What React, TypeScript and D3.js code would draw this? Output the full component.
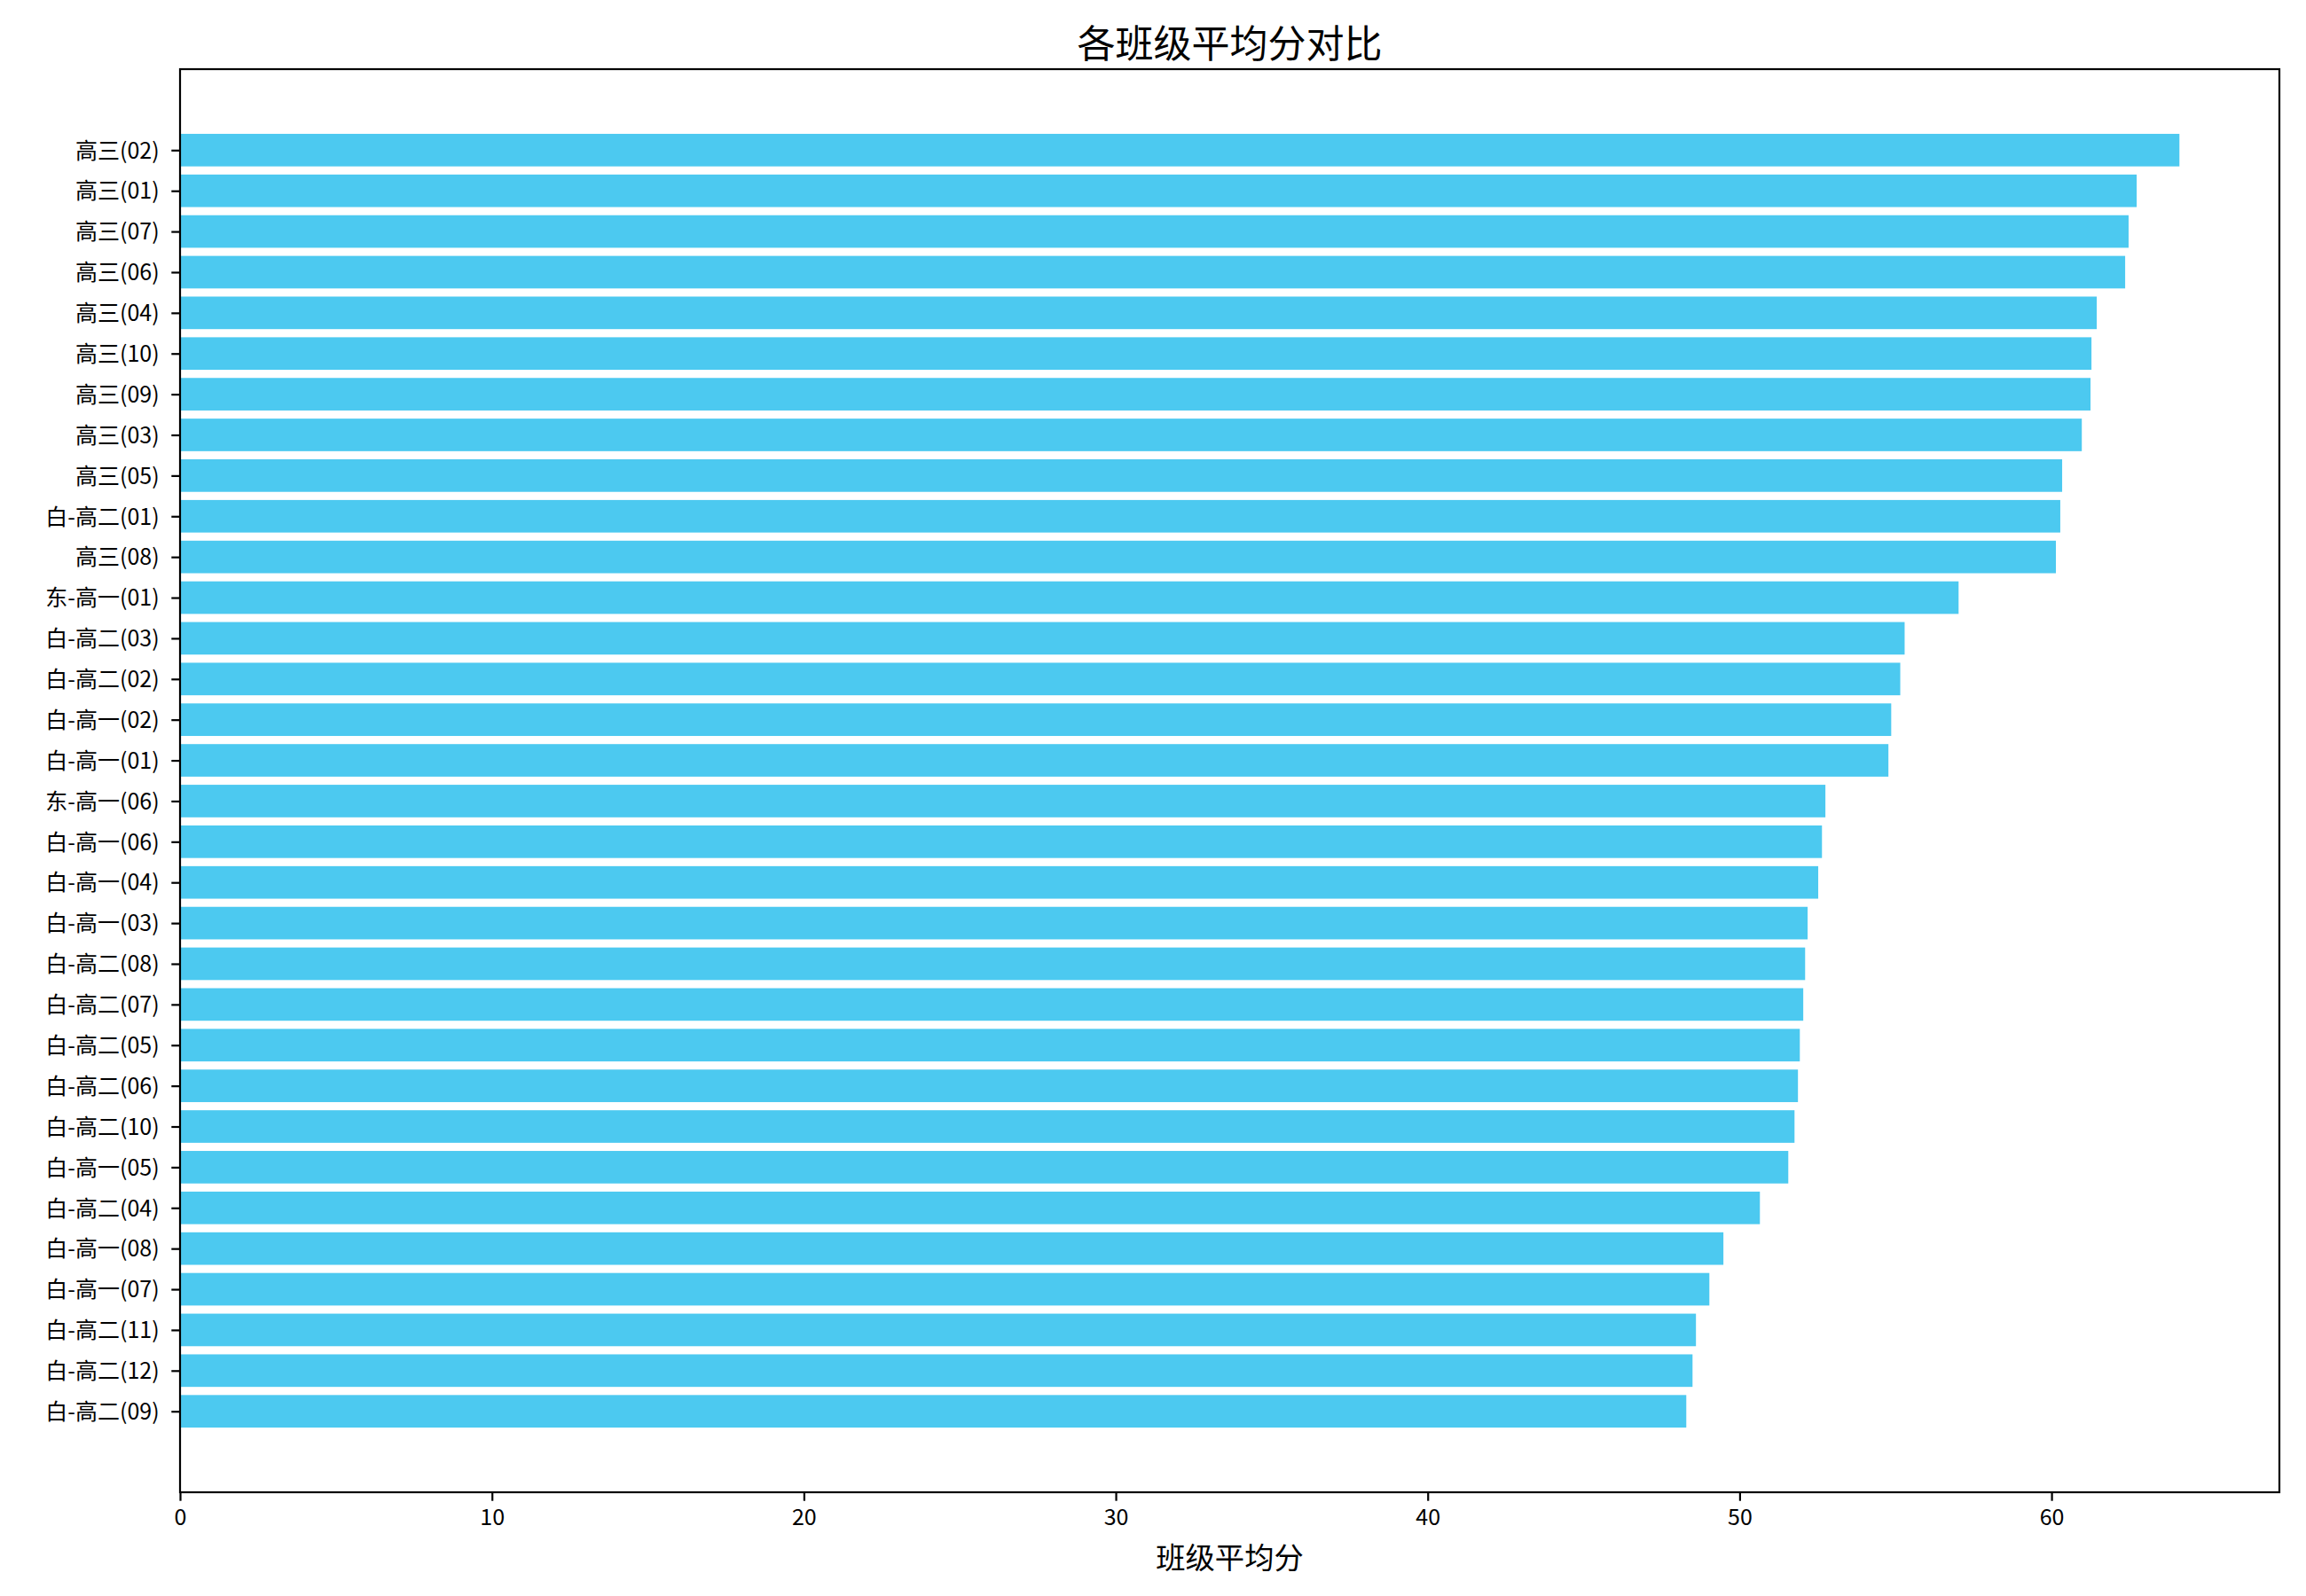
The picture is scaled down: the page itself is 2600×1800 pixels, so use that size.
import React, { useEffect, useRef } from "react";
import * as d3 from "d3";

const classNames: string[] = [
  "高三(02)", "高三(01)", "高三(07)", "高三(06)", "高三(04)", "高三(10)", "高三(09)", "高三(03)",
  "高三(05)", "白-高二(01)", "高三(08)", "东-高一(01)", "白-高二(03)", "白-高二(02)", "白-高一(02)",
  "白-高一(01)", "东-高一(06)", "白-高一(06)", "白-高一(04)", "白-高一(03)", "白-高二(08)",
  "白-高二(07)", "白-高二(05)", "白-高二(06)", "白-高二(10)", "白-高一(05)", "白-高二(04)",
  "白-高一(08)", "白-高一(07)", "白-高二(11)", "白-高二(12)", "白-高二(09)",
];

const avgScores: number[] = [
  64.10, 62.73, 62.47, 62.36, 61.45, 61.28, 61.25, 60.97,
  60.34, 60.28, 60.14, 57.02, 55.29, 55.15, 54.86,
  54.77, 52.75, 52.64, 52.52, 52.18, 52.10,
  52.04, 51.93, 51.87, 51.76, 51.56, 50.65,
  49.48, 49.03, 48.60, 48.49, 48.29,
];

const xTicks: number[] = [0, 10, 20, 30, 40, 50, 60];

const titleText = "各班级平均分对比";
const xLabelText = "班级平均分";

const W = 2600;
const H = 1800;
const FONT = "'Noto Sans CJK SC', 'Noto Sans', sans-serif";

export default function App() {
  const ref = useRef<SVGSVGElement | null>(null);

  useEffect(() => {
    document.body.style.margin = "0";
    const svg = d3.select(ref.current);
    svg.selectAll("*").remove();

    const left = 203, right = 2570, top = 78, bottom = 1683;
    const n = classNames.length;
    const maxV = d3.max(avgScores) as number;
    const x = d3.scaleLinear().domain([0, maxV * 1.05]).range([left, right]);
    const barH = 0.8;
    const lo = -barH / 2, hi = n - 1 + barH / 2;
    const m = (hi - lo) * 0.05;
    const y = d3.scaleLinear().domain([lo - m, hi + m]).range([top, bottom]);

    svg.append("rect").attr("width", W).attr("height", H).attr("fill", "#ffffff");

    // bars
    svg.append("g")
      .selectAll("rect")
      .data(avgScores)
      .join("rect")
      .attr("x", x(0))
      .attr("y", (_d, i) => y(i - barH / 2))
      .attr("width", (d) => x(d) - x(0))
      .attr("height", y(barH) - y(0))
      .attr("fill", "#4cc9f0");

    const tickLen = 9.7;
    const pad = 9.7;

    // x axis
    const gx = svg.append("g").attr("transform", `translate(0,${bottom})`)
      .call(d3.axisBottom(x).tickValues(xTicks).tickFormat(d3.format("d")).tickSize(tickLen).tickSizeOuter(0).tickPadding(pad));
    gx.select(".domain").remove();
    gx.selectAll("line").attr("stroke", "#000").attr("stroke-width", 2.2);
    gx.selectAll("text").attr("font-family", FONT).attr("font-size", 25).attr("fill", "#000");

    // y axis
    const yBand = d3.scaleOrdinal<string, number>().domain(classNames).range(classNames.map((_c, i) => y(i)));
    const gy = svg.append("g").attr("transform", `translate(${left},0)`)
      .call(d3.axisLeft(yBand as any).tickSize(tickLen).tickSizeOuter(0).tickPadding(pad + 4));
    gy.select(".domain").remove();
    gy.selectAll("line").attr("stroke", "#000").attr("stroke-width", 2.2);
    gy.selectAll("text").attr("font-family", FONT).attr("font-size", 25).attr("fill", "#000")
      .attr("dy", "0.35em");

    // spines
    svg.append("rect")
      .attr("x", left).attr("y", top)
      .attr("width", right - left).attr("height", bottom - top)
      .attr("fill", "none").attr("stroke", "#000").attr("stroke-width", 2.2);

    // title
    svg.append("text")
      .attr("x", (left + right) / 2).attr("y", 46)
      .attr("text-anchor", "middle").attr("dominant-baseline", "central")
      .attr("font-family", FONT).attr("font-size", 43).attr("fill", "#000")
      .text(titleText);

    // x label
    svg.append("text")
      .attr("x", (left + right) / 2).attr("y", 1754)
      .attr("text-anchor", "middle").attr("dominant-baseline", "central")
      .attr("font-family", FONT).attr("font-size", 33.3).attr("fill", "#000")
      .text(xLabelText);
  }, []);

  return (
    <svg
      ref={ref}
      width={W}
      height={H}
      viewBox={`0 0 ${W} ${H}`}
      style={{ position: "absolute", left: 0, top: 0, display: "block" }}
    />
  );
}
